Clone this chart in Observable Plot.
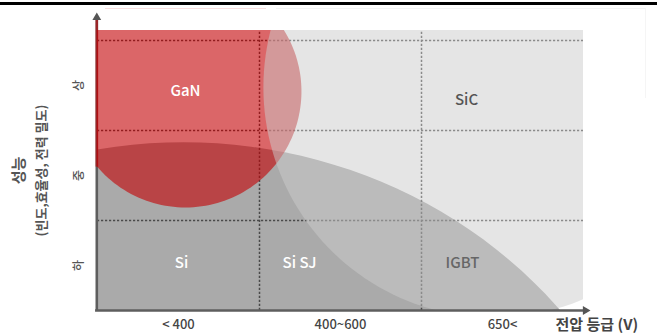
<!DOCTYPE html>
<html>
<head>
<meta charset="utf-8">
<script src="https://cdn.jsdelivr.net/npm/d3@7"></script>
<script src="https://cdn.jsdelivr.net/npm/@observablehq/plot@0.6"></script>
<style>
  html, body { margin: 0; padding: 0; background: #fff; }
  #wrap { position: relative; width: 657px; height: 336px; overflow: hidden;
          font-family: "Noto Sans CJK KR", "Noto Sans", sans-serif; }
  #chart { position: absolute; left: 0; top: 0; }
  .bar { position: absolute; left: 0; top: 2px; width: 657px; height: 3px; background: #000; }
  .hair { position: absolute; }
</style>
</head>
<body>
<div id="wrap">
  <div id="chart"></div>
  <div class="bar"></div>
  <div class="hair" style="left:105px;top:8px;width:161px;height:1px;background:#f8dede;"></div>
  <div class="hair" style="left:276px;top:8px;width:369px;height:1px;background:#f3f3f3;"></div>
  <div class="hair" style="left:645px;top:8px;width:1px;height:90px;background:#f5f5f5;"></div>
</div>
<script>
// Axis categories
const voltageClasses = ["< 400", "400~600", "650<"];
const performanceLevels = ["하", "중", "상"];

// Technology zones, as ellipses in (voltage class, performance level) units
const zoneNames = ["Silicon", "GaN", "SiC"];
const zoneVoltageCenter = [0.53, 0.543, 2.444];
const zoneVoltageRadius = [3.006, 0.716, 1.42];
const zonePerformanceCenter = [-3.22, 2.433, 2.478];
const zonePerformanceRadius = [5.089, 1.289, 2.556];

// Technology labels
const labelNames = ["GaN", "SiC", "Si", "Si SJ", "IGBT"];
const labelVoltage = [0.543, 2.278, 0.519, 1.247, 2.253];
const labelPerformance = [2.433, 2.333, 0.522, 0.522, 0.522];
const labelColors = ["#ffffff", "#555555", "#ffffff", "#ffffff", "#666666"];

const topLevel = 3.11;        // upper edge of the plotting frame
const arrowLevel = 3.254;     // tip region of the vertical axis arrow
const arrowVoltage = 3.012;   // tip region of the horizontal axis arrow

// Closed outline of one zone ellipse
function outline(i) {
  return d3.range(0, 360, 2).map(a => {
    const t = a * Math.PI / 180;
    return {
      zone: zoneNames[i],
      v: zoneVoltageCenter[i] + zoneVoltageRadius[i] * Math.cos(t),
      p: zonePerformanceCenter[i] + zonePerformanceRadius[i] * Math.sin(t)
    };
  });
}
const silicon = outline(0), gan = outline(1), sic = outline(2);

// Where the GaN zone crosses the vertical axis (it tints the axis line)
const gk = zoneVoltageCenter[1] / zoneVoltageRadius[1];
const gh = zonePerformanceRadius[1] * Math.sqrt(Math.max(0, 1 - gk * gk));
const ganAxisLow = zonePerformanceCenter[1] - gh;
const ganAxisHigh = Math.min(arrowLevel - 0.03, zonePerformanceCenter[1] + gh);

const red = "#c30003";
const axisGray = "#5e5e5e";
const font = '"Noto Sans CJK KR", "Noto Sans", sans-serif';

const chart = Plot.plot({
  width: 657,
  height: 336,
  marginLeft: 97,
  marginRight: 74,
  marginTop: 30,
  marginBottom: 26,
  x: {domain: [0, voltageClasses.length], axis: null},
  y: {domain: [0, topLevel], axis: null},
  style: {fontFamily: font, background: "transparent", overflow: "visible"},
  marks: [
    // Si / Si SJ / IGBT zone
    Plot.line(silicon, {x: "v", y: "p", fill: "#aaaaaa", stroke: "none", curve: "linear-closed", clip: "frame"}),
    // dotted grid between classes and levels
    Plot.ruleY(d3.range(1, performanceLevels.length + 1), {x1: 0, x2: voltageClasses.length, stroke: "#4a4a4a", strokeWidth: 1.5, strokeDasharray: "2.2,1.8"}),
    Plot.ruleX(d3.range(1, voltageClasses.length), {y1: 0, y2: topLevel, stroke: "#4a4a4a", strokeWidth: 1.5, strokeDasharray: "2.2,1.8"}),
    // vertical axis line
    Plot.ruleX([0], {y1: 0, y2: arrowLevel, stroke: axisGray, strokeWidth: 2.6, dx: -0.7}),
    // GaN zone
    Plot.line(gan, {x: "v", y: "p", fill: red, fillOpacity: 0.6, stroke: "none", curve: "linear-closed", clip: "frame"}),
    Plot.ruleX([0], {y1: ganAxisLow, y2: ganAxisHigh, stroke: red, strokeOpacity: 0.6, strokeWidth: 2.6, dx: -0.7}),
    // SiC zone, a light veil over everything beneath
    Plot.line(sic, {x: "v", y: "p", fill: "#cccccc", fillOpacity: 0.506, stroke: "none", curve: "linear-closed", clip: "frame"}),
    // horizontal axis line
    Plot.ruleY([0], {x1: -0.012, x2: arrowVoltage, stroke: axisGray, strokeWidth: 2.6}),
    // arrow heads
    Plot.dot([0], {x: 0, y: arrowLevel, symbol: "triangle2", r: 4.2, fill: "#555", stroke: "none", dx: -0.7}),
    Plot.dot([0], {x: arrowVoltage, y: 0, symbol: "triangle2", r: 4.2, rotate: 90, fill: "#555", stroke: "none"}),
    // zone labels
    Plot.text(labelNames, {
      x: (d, i) => labelVoltage[i], y: (d, i) => labelPerformance[i], text: d => d,
      fill: (d, i) => labelColors[i], fontSize: 15, fontWeight: 500
    }),
    // voltage class labels
    Plot.text(voltageClasses, {
      x: (d, i) => i + 0.5, y: 0, text: d => d, dy: 14,
      fill: "#444", fontSize: 13, fontWeight: 500
    }),
    // performance level labels
    Plot.text(performanceLevels, {
      x: 0, y: (d, i) => i + 0.5, text: d => d, rotate: -90, dx: -18,
      fill: "#555", fontSize: 12, fontWeight: 500
    }),
    // axis titles
    Plot.text(["성능"], {frameAnchor: "left", textAnchor: "middle", text: d => d, rotate: -90, dx: -78, fill: "#555", fontSize: 15, fontWeight: 700}),
    Plot.text(["(빈도,효율성, 전력 밀도)"], {frameAnchor: "left", textAnchor: "middle", text: d => d, rotate: -90, dx: -55.5, fill: "#555", fontSize: 13, fontWeight: 600}),
    Plot.text(["전압 등급 (V)"], {frameAnchor: "bottom-right", text: d => d, textAnchor: "start", dx: -28, dy: 19, fill: "#444", fontSize: 15, fontWeight: 700})
  ]
});
document.getElementById("chart").appendChild(chart);
</script>
</body>
</html>
